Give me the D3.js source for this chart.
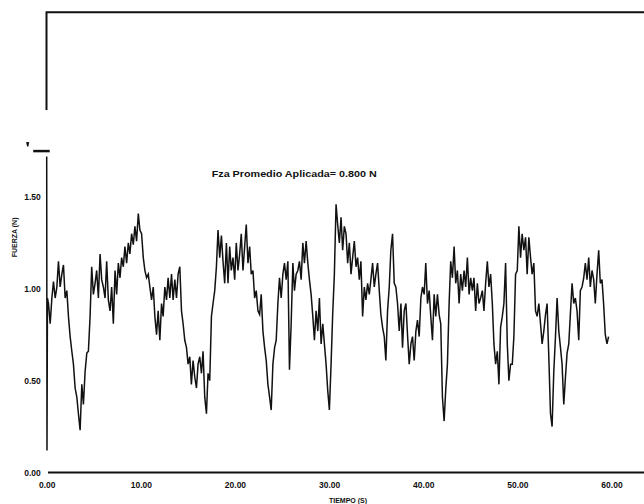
<!DOCTYPE html>
<html>
<head>
<meta charset="utf-8">
<script src="https://cdn.jsdelivr.net/npm/d3@7"></script>
<style>
  html, body { margin: 0; padding: 0; background: #fff; }
  svg { display: block; }
  text { font-family: "Liberation Sans", Arial, sans-serif; font-weight: bold; fill: #111; }
</style>
</head>
<body>
<svg id="chart" width="644" height="504"></svg>
<script>
// Registro de fuerza aplicada vs. tiempo
const tiempo = [
  // 0 – 18 s
  0.00, 0.03, 0.08, 0.19, 0.37, 0.55, 0.72, 0.90, 1.08, 1.25,
  1.43, 1.61, 1.78, 1.96, 2.14, 2.31, 2.49, 2.67, 2.84, 3.02,
  3.20, 3.37, 3.55, 3.73, 3.90, 4.08, 4.26, 4.43, 4.61, 4.78,
  4.96, 5.14, 5.31, 5.49, 5.67, 5.84, 6.02, 6.20, 6.37, 6.55,
  6.73, 6.90, 7.08, 7.26, 7.43, 7.61, 7.79, 7.96, 8.14, 8.31,
  8.49, 8.67, 8.84, 9.02, 9.20, 9.37, 9.55, 9.73, 9.90, 10.08,
  10.26, 10.43, 10.61, 10.79, 10.96, 11.14, 11.32, 11.49, 11.67, 11.84,
  12.02, 12.20, 12.37, 12.55, 12.73, 12.90, 13.08, 13.26, 13.43, 13.61,
  13.79, 13.96, 14.14, 14.32, 14.49, 14.67, 14.85, 15.02, 15.20, 15.37,
  15.55, 15.73, 15.91, 16.08, 16.26, 16.44, 16.61, 16.79, 16.97, 17.14,
  17.32, 17.50, 17.67, 17.85, 18.03, 18.20,
  // 18 – 37 s
  18.38, 18.56, 18.73, 18.91, 19.09, 19.26, 19.44, 19.61, 19.79, 19.97,
  20.14, 20.32, 20.50, 20.67, 20.85, 21.03, 21.20, 21.38, 21.56, 21.73,
  21.91, 22.09, 22.26, 22.44, 22.62, 22.79, 22.97, 23.15, 23.32, 23.50,
  23.68, 23.85, 24.03, 24.21, 24.38, 24.56, 24.73, 24.91, 25.09, 25.26,
  25.44, 25.62, 25.79, 25.97, 26.15, 26.32, 26.50, 26.68, 26.85, 27.03,
  27.21, 27.38, 27.56, 27.74, 27.91, 28.09, 28.27, 28.44, 28.62, 28.80,
  28.97, 29.15, 29.33, 29.50, 29.68, 29.85, 30.03, 30.21, 30.38, 30.56,
  30.74, 30.91, 31.09, 31.27, 31.44, 31.62, 31.80, 31.97, 32.15, 32.33,
  32.50, 32.68, 32.86, 33.03, 33.21, 33.38, 33.56, 33.74, 33.91, 34.09,
  34.27, 34.44, 34.62, 34.80, 34.97, 35.15, 35.33, 35.50, 35.68, 35.86,
  36.03, 36.21, 36.39, 36.56, 36.74, 36.92, 37.09, 37.27,
  // 37 – 60 s
  37.45, 37.63, 37.80, 37.98, 38.16, 38.33, 38.51, 38.69, 38.86, 39.04,
  39.22, 39.39, 39.57, 39.75, 39.92, 40.10, 40.27, 40.45, 40.63, 40.80,
  40.98, 41.16, 41.33, 41.51, 41.69, 41.86, 42.04, 42.22, 42.39, 42.57,
  42.75, 42.92, 43.10, 43.28, 43.45, 43.63, 43.81, 43.98, 44.16, 44.34,
  44.51, 44.69, 44.87, 45.04, 45.22, 45.39, 45.57, 45.75, 45.92, 46.10,
  46.28, 46.45, 46.63, 46.81, 46.98, 47.16, 47.34, 47.51, 47.69, 47.87,
  48.04, 48.22, 48.40, 48.57, 48.75, 48.93, 49.10, 49.28, 49.46, 49.63,
  49.81, 49.99, 50.16, 50.34, 50.51, 50.69, 50.87, 51.04, 51.22, 51.40,
  51.57, 51.75, 51.93, 52.10, 52.28, 52.46, 52.63, 52.81, 52.99, 53.16,
  53.34, 53.52, 53.69, 53.87, 54.05, 54.22, 54.40, 54.58, 54.75, 54.93,
  55.11, 55.28, 55.46, 55.63, 55.81, 55.99, 56.16, 56.34, 56.52, 56.69,
  56.87, 57.05, 57.22, 57.40, 57.58, 57.75, 57.93, 58.11, 58.28, 58.46,
  58.64, 58.81, 58.99, 59.16, 59.34, 59.52, 59.69
];

const fuerza = [
  // 0 – 18 s
  1.72, 0.12, 0.95, 0.92, 0.81, 0.95, 1.04, 0.95, 1.01, 1.15,
  1.01, 1.08, 1.13, 0.95, 0.99, 0.85, 0.74, 0.66, 0.59, 0.46,
  0.41, 0.32, 0.23, 0.48, 0.37, 0.55, 0.65, 0.66, 0.85, 1.12,
  0.97, 1.03, 1.10, 0.95, 1.19, 1.05, 1.01, 0.95, 1.15, 0.94,
  0.88, 1.01, 0.81, 1.10, 0.97, 1.14, 1.06, 1.17, 1.12, 1.23,
  1.14, 1.25, 1.19, 1.30, 1.24, 1.34, 1.26, 1.41, 1.32, 1.30,
  1.17, 1.10, 1.06, 1.08, 1.01, 0.94, 1.01, 0.85, 0.75, 0.88,
  0.72, 0.92, 0.85, 1.01, 0.94, 1.06, 0.95, 1.08, 0.94, 1.05,
  0.95, 1.08, 1.12, 0.88, 0.81, 0.72, 0.68, 0.59, 0.63, 0.48,
  0.61, 0.52, 0.46, 0.59, 0.63, 0.54, 0.66, 0.41, 0.32, 0.54,
  0.50, 0.85, 0.92, 0.99, 1.12, 1.32,
  // 18 – 37 s
  1.17, 1.29, 1.15, 1.03, 1.25, 1.03, 1.23, 1.10, 1.17, 1.05,
  1.25, 1.10, 1.19, 1.30, 1.10, 1.23, 1.35, 1.14, 1.23, 1.08,
  1.10, 0.95, 0.99, 0.88, 0.86, 0.97, 0.77, 0.68, 0.61, 0.48,
  0.41, 0.34, 0.59, 0.68, 0.72, 0.92, 1.06, 0.95, 1.08, 1.14,
  1.05, 1.15, 0.56, 0.81, 1.14, 0.99, 1.08, 1.10, 1.15, 1.05,
  1.25, 1.14, 1.26, 1.14, 1.05, 0.97, 0.85, 0.72, 0.88, 0.77,
  0.95, 0.70, 0.81, 0.70, 0.59, 0.45, 0.34, 0.59, 0.86, 1.08,
  1.46, 1.35, 1.25, 1.39, 1.21, 1.34, 1.30, 1.14, 1.25, 1.08,
  1.17, 1.26, 1.12, 1.17, 1.05, 1.15, 0.85, 1.01, 0.94, 1.03,
  0.97, 1.05, 1.14, 1.01, 1.08, 1.14, 0.99, 0.86, 0.79, 0.74,
  0.61, 0.88, 1.01, 1.21, 1.30, 1.03, 1.01, 0.92,
  // 37 – 60 s
  0.77, 0.92, 0.68, 0.88, 0.92, 0.75, 0.59, 0.70, 0.74, 0.61,
  0.77, 0.83, 0.74, 0.95, 1.01, 0.97, 1.14, 0.92, 0.99, 0.85,
  0.72, 0.97, 0.85, 0.97, 0.86, 0.81, 0.41, 0.28, 0.45, 0.59,
  0.92, 1.15, 1.06, 1.23, 1.03, 1.10, 0.92, 1.08, 0.99, 1.10,
  1.01, 1.17, 0.97, 1.06, 0.99, 1.06, 0.88, 1.03, 0.92, 0.95,
  0.99, 0.88, 1.03, 1.15, 1.01, 1.08, 0.92, 0.70, 0.59, 0.66,
  0.48, 0.79, 0.85, 0.92, 1.14, 0.70, 0.50, 0.59, 0.59, 0.74,
  1.08, 1.10, 1.34, 1.17, 1.30, 1.21, 1.28, 1.08, 1.28, 1.17,
  1.08, 1.14, 0.88, 0.85, 0.92, 0.81, 0.70, 0.77, 0.86, 0.92,
  0.63, 0.32, 0.25, 0.55, 0.74, 0.95, 0.77, 0.68, 0.59, 0.37,
  0.52, 0.65, 0.70, 0.86, 1.03, 0.92, 0.95, 0.88, 0.72, 0.99,
  1.01, 1.06, 1.14, 1.05, 1.17, 1.01, 1.10, 1.05, 0.92, 1.08,
  1.21, 1.03, 1.05, 0.92, 0.75, 0.70, 0.74
];

const ticksX = [0, 10, 20, 30, 40, 50, 60];
const ticksY = [0, 0.5, 1.0, 1.5];
const tituloX = "TIEMPO (S)";
const tituloY = "FUERZA (N)";
const fuerzaPromedio = 0.800;
const leyenda = "Fza Promedio Aplicada= " + fuerzaPromedio.toFixed(3) + " N";

const W = 644, H = 504;
const svg = d3.select("#chart");

const x = d3.scaleLinear().domain([0, 60]).range([46.7, 611.5]);
const y = d3.scaleLinear().domain([0, 1.5]).range([472.5, 197]);
const fmt = d3.format(".2f");

// partial frame of the panel above
svg.append("path")
  .attr("d", "M46.5,110V12.3H" + W)
  .attr("fill", "none").attr("stroke", "#111").attr("stroke-width", 2);

// x axis: baseline and labels
svg.append("line")
  .attr("x1", x(0) + 1.3).attr("x2", W)
  .attr("y1", y(0)).attr("y2", y(0))
  .attr("stroke", "#111").attr("stroke-width", 2);

const gx = svg.append("g")
  .attr("transform", `translate(0,${y(0)})`)
  .call(d3.axisBottom(x).tickValues(ticksX).tickSize(0).tickPadding(9).tickFormat(fmt));
gx.select(".domain").remove();
gx.selectAll("text")
  .attr("font-family", "Liberation Sans, Arial, sans-serif")
  .attr("font-weight", "bold").attr("font-size", 8.5).attr("fill", "#111");

// y axis labels
const gy = svg.append("g")
  .attr("transform", `translate(${x(0)},0)`)
  .call(d3.axisLeft(y).tickValues(ticksY).tickSize(0).tickPadding(6).tickFormat(fmt));
gy.select(".domain").remove();
gy.selectAll("text")
  .attr("font-family", "Liberation Sans, Arial, sans-serif")
  .attr("font-weight", "bold").attr("font-size", 8.5).attr("fill", "#111");

// short mark above the vertical axis
svg.append("line")
  .attr("x1", x(0) - 13.5).attr("x2", x(0) + 3)
  .attr("y1", y(1.75)).attr("y2", y(1.75))
  .attr("stroke", "#111").attr("stroke-width", 2.5);
svg.append("path")
  .attr("d", `M${x(0) - 20.5},${y(1.80)}h3l-0.8,4.5h-1.4z`)
  .attr("fill", "#111");

// axis titles
svg.append("text")
  .attr("transform", `translate(17,${y(1.28)}) rotate(-90)`)
  .attr("text-anchor", "middle").attr("font-size", 7)
  .text(tituloY);
svg.append("text")
  .attr("x", 348).attr("y", 503)
  .attr("text-anchor", "middle").attr("font-size", 7)
  .text(tituloX);

// annotation
svg.append("text")
  .attr("x", 211.7).attr("y", 177.3)
  .attr("font-size", 9.5)
  .attr("textLength", 165).attr("lengthAdjust", "spacingAndGlyphs")
  .text(leyenda);

// force trace
const n = Math.min(tiempo.length, fuerza.length);
const serie = d3.range(n).map(i => ({ t: tiempo[i], f: fuerza[i] }));
const linea = d3.line().x(d => x(d.t)).y(d => y(d.f));
svg.append("path")
  .datum(serie)
  .attr("d", linea)
  .attr("fill", "none")
  .attr("stroke", "#111")
  .attr("stroke-width", 1.5)
  .attr("stroke-linejoin", "miter");
</script>
</body>
</html>
